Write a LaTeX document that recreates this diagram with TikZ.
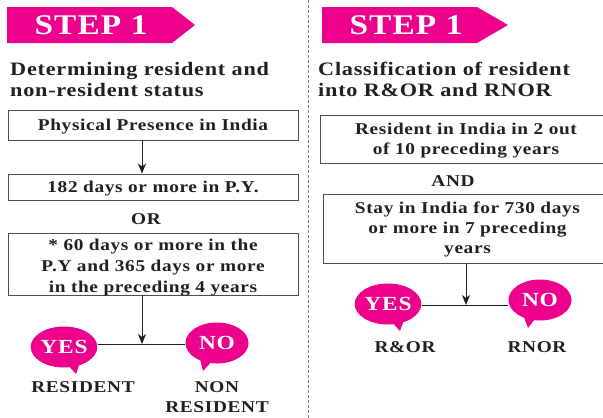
\documentclass[tikz,border=0pt]{standalone}
\usepackage{fontspec}
\setmainfont{Liberation Serif}[FakeStretch=1.17,LetterSpace=4]
\usetikzlibrary{shapes.geometric,arrows.meta,calc}
\definecolor{pinkc}{HTML}{EC008C}
\definecolor{txt}{HTML}{231F20}
\definecolor{boxc}{HTML}{4D4D4D}
\definecolor{divc}{HTML}{7A7A7A}
\begin{document}
\begin{tikzpicture}[x=1pt,y=-1pt,
  bannertext/.style={text=white,font=\fontsize{28.5}{28}\selectfont\bfseries,inner sep=0},
  title/.style={anchor=north west,align=left,text=txt,font=\fontsize{19}{21}\selectfont\bfseries,inner sep=0},
  frame/.style={draw=boxc,line width=0.9pt,inner sep=0},
  btext/.style={text=txt,font=\fontsize{16.5}{21}\selectfont\bfseries,align=center,inner sep=0,yshift=-3.5pt},
  stext/.style={btext,yshift=2pt},
  rtext/.style={btext,font=\fontsize{16.5}{20}\selectfont\bfseries,yshift=2pt},
  lbl/.style={text=txt,font=\fontsize{16.5}{20}\selectfont\bfseries,align=center,inner sep=0},
  bubble/.style={ellipse,fill=pinkc,minimum width=63pt,minimum height=41pt,inner sep=0,text=white,font=\fontsize{20}{20}\selectfont\bfseries},
  conn/.style={draw=txt,line width=0.9pt},
  arr/.style={conn,-{Stealth[length=10pt,width=8pt,inset=3pt]}}]
\useasboundingbox (0,0) rectangle (603,418);
\fill[white] (0,0) rectangle (603,418);

% divider
\draw[divc,line width=0.9pt,dash pattern=on 3pt off 2pt] (308,0) -- (308,418);

% banners
\fill[pinkc] (7,7) -- (172,7) -- (195,25) -- (172,43) -- (7,43) -- cycle;
\node[bannertext] (s1) at (91,25) {STEP 1};
\fill[pinkc] (322,7) -- (477,7) -- (508,25) -- (477,43) -- (322,43) -- cycle;
\node[bannertext] (s2) at (406,25) {STEP 1};

% titles
\node[title] (t1) at (10,62) {Determining resident and\\non-resident status};
\node[title] (t2) at (318,62) {Classification of resident\\into R\&OR and RNOR};

% left column
\coordinate (lx) at (142,0);
\node[frame,minimum width=290pt,minimum height=30pt,
  label={[stext]center:{Physical Presence in India}}] (b1) at (153,125) {};
\node[frame,minimum width=290pt,minimum height=26pt,
  label={[stext]center:{182 days or more in P.Y.}}] (b2) at (153,187) {};
\node[lbl] (or) at (146,219) {OR};
\node[frame,minimum width=290pt,minimum height=62pt,
  label={[btext]center:{* 60 days or more in the\\P.Y and 365 days or more\\in the preceding 4 years}}] (b3) at (153,264) {};
\draw[arr] (b1.south -| lx) -- (b2.north -| lx);
\coordinate (lj) at (142,344);
\draw[arr] (b3.south -| lx) -- (lj);

\node[bubble] (yes1) at (64,347) {YES};
\node[bubble] (no1) at (217,343) {NO};
\fill[pinkc] ($(yes1.center)+(1,15)$) -- ($(yes1.center)+(12,27)$) -- ($(yes1.center)+(17,13)$) -- cycle;
\fill[pinkc] ($(no1.center)+(-2,15)$) -- ($(no1.center)+(-14,28)$) -- ($(no1.center)+(-18,12)$) -- cycle;
\draw[conn] (yes1.east |- lj) -- (no1.west |- lj);
\node[lbl] (res) at (83,387) {RESIDENT};
\node[lbl] (nres) at (217,397) {NON\\RESIDENT};

% right column
\coordinate (rx) at (466,0);
\node[frame,minimum width=292pt,minimum height=48pt,
  label={[rtext]center:{Resident in India in 2 out\\of 10 preceding years}}] (r1) at (466,139) {};
\node[lbl] (and) at (453,181) {AND};
\node[frame,minimum width=289pt,minimum height=69pt,
  label={[rtext,yshift=1pt]center:{Stay in India for 730 days\\or more in 7 preceding\\years}}] (r2) at (467.5,228.5) {};
\coordinate (rj) at (466,305);
\draw[arr] (r2.south -| rx) -- (rj);
\node[bubble] (yes2) at (388,304) {YES};
\node[bubble] (no2) at (540,300) {NO};
\fill[pinkc] ($(yes2.center)+(1,15)$) -- ($(yes2.center)+(12,27)$) -- ($(yes2.center)+(17,13)$) -- cycle;
\fill[pinkc] ($(no2.center)+(-2,15)$) -- ($(no2.center)+(-12,28)$) -- ($(no2.center)+(-18,12)$) -- cycle;
\draw[conn] (yes2.east |- rj) -- (no2.west |- rj);
\node[lbl] (ror) at (405,347) {R\&OR};
\node[lbl] (rnor) at (537,347) {RNOR};
\end{tikzpicture}
\end{document}
